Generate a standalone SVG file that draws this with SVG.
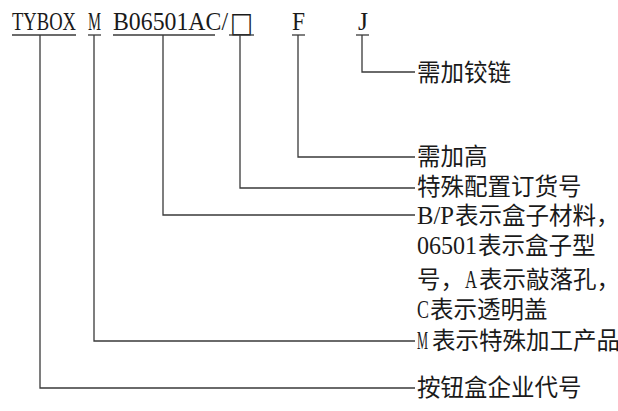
<svg xmlns="http://www.w3.org/2000/svg" width="618" height="411" viewBox="0 0 618 411">
<style>
.lat{font-family:"Liberation Serif",serif;font-size:19px;fill:#1a1a1a}
.cjk{font-family:"Noto Sans CJK SC","Noto Sans",sans-serif;font-size:23.5px;fill:#1a1a1a}
.sq{font-family:"DejaVu Sans",sans-serif;font-size:28px;fill:#1a1a1a}
.ln{stroke:#3a3a3a;stroke-width:1.3;fill:none}
.ul{stroke:#3a3a3a;stroke-width:1.3}
</style>
<rect width="618" height="411" fill="#fff"/>
<g id="code">
<text class="lat" transform="translate(12,30) scale(1,1.36)" textLength="64" lengthAdjust="spacingAndGlyphs">TYBOX</text>
<text class="lat" transform="translate(88,30) scale(1,1.36)" textLength="13" lengthAdjust="spacingAndGlyphs">M</text>
<text class="lat" transform="translate(113,30) scale(1,1.36)" textLength="115" lengthAdjust="spacingAndGlyphs">B06501AC/</text>
<text class="sq" x="230" y="32" textLength="23" lengthAdjust="spacingAndGlyphs">□</text>
<text class="lat" transform="translate(292,30) scale(1,1.36)" textLength="13" lengthAdjust="spacingAndGlyphs">F</text>
<text class="lat" transform="translate(358,30) scale(1,1.36)" textLength="10" lengthAdjust="spacingAndGlyphs">J</text>
<line class="ul" x1="12" y1="35" x2="76" y2="35"/>
<line class="ul" x1="88" y1="35" x2="101" y2="35"/>
<line class="ul" x1="113" y1="35" x2="215" y2="35"/>
<line class="ul" x1="229" y1="35" x2="254" y2="35"/>
<line class="ul" x1="292" y1="35" x2="305" y2="35"/>
<line class="ul" x1="356" y1="35" x2="369" y2="35"/>
</g>
<g id="connectors">
<polyline class="ln" points="40,35 40,388 415,388"/>
<polyline class="ln" points="94,35 94,341 415,341"/>
<polyline class="ln" points="163,35 163,215 415,215"/>
<polyline class="ln" points="240,35 240,188 415,188"/>
<polyline class="ln" points="298,35 298,157 415,157"/>
<polyline class="ln" points="362,35 362,72 415,72"/>
</g>
<g id="label-J"><text class="cjk" x="417" y="81">需加铰链</text></g>
<g id="label-F"><text class="cjk" x="417" y="165">需加高</text></g>
<g id="label-box"><text class="cjk" x="417" y="195">特殊配置订货号</text></g>
<g id="label-B">
<text class="lat" transform="translate(417,224) scale(1,1.36)" textLength="37" lengthAdjust="spacingAndGlyphs">B/P</text>
<text class="cjk" x="455" y="224">表示盒子材料，</text>
<text class="lat" transform="translate(417,254) scale(1,1.36)" textLength="60" lengthAdjust="spacingAndGlyphs">06501</text>
<text class="cjk" x="478" y="254">表示盒子型</text>
<text class="cjk" x="417" y="288">号，</text>
<text class="lat" transform="translate(465,288) scale(1,1.36)" textLength="12" lengthAdjust="spacingAndGlyphs">A</text>
<text class="cjk" x="479" y="288" font-size="22">表示敲落孔，</text>
<text class="lat" transform="translate(417,318) scale(1,1.36)" textLength="12" lengthAdjust="spacingAndGlyphs">C</text>
<text class="cjk" x="430" y="318">表示透明盖</text>
<text class="lat" transform="translate(417,349) scale(1,1.36)" font-size="13" textLength="11" lengthAdjust="spacingAndGlyphs">M</text>
</g>
<g id="label-M">
<text class="cjk" x="432" y="349" font-size="22.2">表示特殊加工产品</text>
</g>
<g id="label-TYBOX"><text class="cjk" x="417" y="396">按钮盒企业代号</text></g>
</svg>
